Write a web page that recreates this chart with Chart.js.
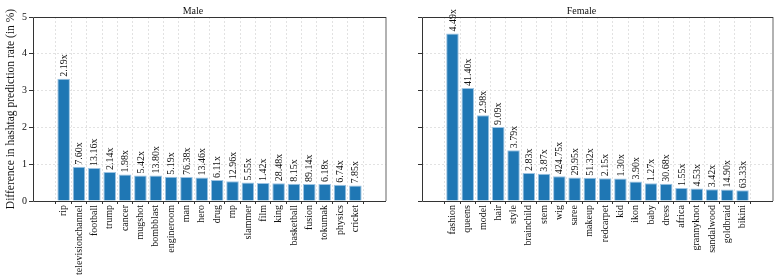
<!DOCTYPE html>
<html lang="en">
<head>
  <meta charset="UTF-8">
  <title>Hashtag prediction rate difference</title>
  <style>
    body { margin: 0; background: #fff; }
    .wrap { position: relative; width: 784px; height: 278px; }
    .panel { position: absolute; top: 0; height: 278px; }
    #male { left: 0; width: 390px; }
    #female { left: 390px; width: 394px; }
  </style>
</head>
<body>
  <div class="wrap">
    <div class="panel" id="male"><canvas id="maleChart"></canvas></div>
    <div class="panel" id="female"><canvas id="femaleChart"></canvas></div>
  </div>

  <script src="https://cdn.jsdelivr.net/npm/chart.js"></script>
  <script>
    const maleTags = ['rip', 'televisionchannel', 'football', 'trump', 'cancer', 'mugshot', 'bombblast', 'engineroom', 'man', 'hero',
      'drug', 'rnp', 'slammer', 'film', 'king', 'basketball', 'fusion', 'tokumak', 'physics', 'cricket'];
    const maleValues = [3.32, 0.93, 0.90, 0.79, 0.72, 0.69, 0.69, 0.66, 0.65, 0.64,
      0.57, 0.54, 0.50, 0.49, 0.48, 0.47, 0.46, 0.46, 0.44, 0.42];
    const maleRatios = ['2.19x', '7.60x', '13.16x', '2.14x', '1.98x', '5.42x', '13.80x', '5.19x', '76.38x', '13.46x',
      '6.11x', '12.96x', '5.55x', '1.42x', '28.48x', '8.15x', '89.14x', '6.18x', '6.74x', '7.85x'];

    const femaleTags = ['fashion', 'queens', 'model', 'hair', 'style', 'brainchild', 'stem', 'wig', 'saree', 'makeup',
      'redcarpet', 'kid', 'ikon', 'baby', 'dress', 'africa', 'grannyknot', 'sandalwood', 'goldbraid', 'bikini'];
    const femaleValues = [4.55, 3.07, 2.33, 2.01, 1.38, 0.76, 0.74, 0.67, 0.64, 0.63,
      0.62, 0.61, 0.53, 0.48, 0.47, 0.35, 0.34, 0.32, 0.31, 0.29];
    const femaleRatios = ['4.49x', '41.40x', '2.98x', '9.09x', '3.79x', '2.83x', '3.87x', '424.75x', '29.95x', '51.32x',
      '2.15x', '1.30x', '3.90x', '1.27x', '30.68x', '1.55x', '4.53x', '3.42x', '14.90x', '63.33x'];

    const yTicks = [0, 1, 2, 3, 4, 5];
    const yTitle = 'Difference in hashtag prediction rate (in %)';

    const serif = '"Liberation Serif", "DejaVu Serif", serif';
    const barBlue = '#1f77b4';

    // rotated ratio labels above every bar
    const barLabels = {
      id: 'barLabels',
      afterDatasetsDraw(chart, args, opts) {
        const ctx = chart.ctx;
        const meta = chart.getDatasetMeta(0);
        ctx.save();
        ctx.font = '10px ' + serif;
        ctx.fillStyle = '#111';
        ctx.textAlign = 'left';
        ctx.textBaseline = 'middle';
        meta.data.forEach((bar, i) => {
          ctx.save();
          ctx.translate(bar.x + 0.5, bar.y - 2);
          ctx.rotate(-Math.PI / 2);
          ctx.fillText(opts.texts[i], 0, 0);
          ctx.restore();
        });
        ctx.restore();
      }
    };

    // box around the plot area
    const frame = {
      id: 'frame',
      afterDraw(chart) {
        const { ctx, chartArea: a } = chart;
        ctx.save();
        ctx.strokeStyle = '#999';
        ctx.lineWidth = 1.5;
        ctx.beginPath();
        ctx.moveTo(a.right, a.top);
        ctx.lineTo(a.right, a.bottom);
        ctx.stroke();
        ctx.strokeStyle = '#333';
        ctx.lineWidth = 1;
        ctx.beginPath();
        ctx.moveTo(a.right, a.top + 0.5);
        ctx.lineTo(a.left + 0.5, a.top + 0.5);
        ctx.lineTo(a.left + 0.5, a.bottom + 0.5);
        ctx.lineTo(a.right, a.bottom + 0.5);
        ctx.stroke();
        ctx.restore();
      }
    };

    function makePanel(id, title, tags, values, ratios, showY, axisWidth, padRight) {
      const ctx = document.getElementById(id).getContext('2d');
      return new Chart(ctx, {
        type: 'bar',
        data: {
          datasets: [{
            data: values.map((v, i) => ({ x: i, y: v })),
            backgroundColor: barBlue,
            borderColor: '#9cc3e2',
            borderWidth: 1,
            barPercentage: 0.82,
            categoryPercentage: 1
          }]
        },
        options: {
          responsive: true,
          maintainAspectRatio: false,
          animation: false,
          layout: { padding: { left: 0, right: padRight, top: 0, bottom: 0 } },
          plugins: {
            legend: { display: false },
            tooltip: { enabled: false },
            title: {
              display: true,
              text: title,
              color: '#111',
              font: { family: serif, size: 10, weight: 'normal' },
              padding: { top: 5, bottom: 0 }
            },
            barLabels: { texts: ratios }
          },
          scales: {
            x: {
              type: 'linear',
              min: -1.42,
              max: tags.length - 1 + 1.42,
              afterBuildTicks: s => { s.ticks = tags.map((t, i) => ({ value: i })); },
              afterFit: s => { s.height = 77; },
              ticks: {
                autoSkip: false,
                maxRotation: 90,
                minRotation: 90,
                padding: 1,
                color: '#111',
                font: { family: serif, size: 10 },
                callback: v => tags[v]
              },
              grid: { color: '#e2e2e2', tickColor: '#333', tickLength: 3 },
              border: { display: false, dash: [2, 2] }
            },
            y: {
              min: 0,
              max: 5,
              afterBuildTicks: s => { s.ticks = yTicks.map(v => ({ value: v })); },
              afterFit: s => { s.width = axisWidth; },
              ticks: {
                display: showY,
                padding: 2,
                color: '#111',
                font: { family: serif, size: 10 }
              },
              title: {
                display: showY,
                text: yTitle,
                color: '#111',
                font: { family: serif, size: 11.5 },
                padding: { top: 4, bottom: 0 }
              },
              grid: { color: '#e2e2e2', tickColor: '#333', tickLength: 4 },
              border: { display: false, dash: [2, 2] }
            }
          }
        },
        plugins: [barLabels, frame]
      });
    }

    makePanel('maleChart', 'Male', maleTags, maleValues, maleRatios, true, 33, 4);
    makePanel('femaleChart', 'Female', femaleTags, femaleValues, femaleRatios, false, 32, 11);
  </script>
</body>
</html>
